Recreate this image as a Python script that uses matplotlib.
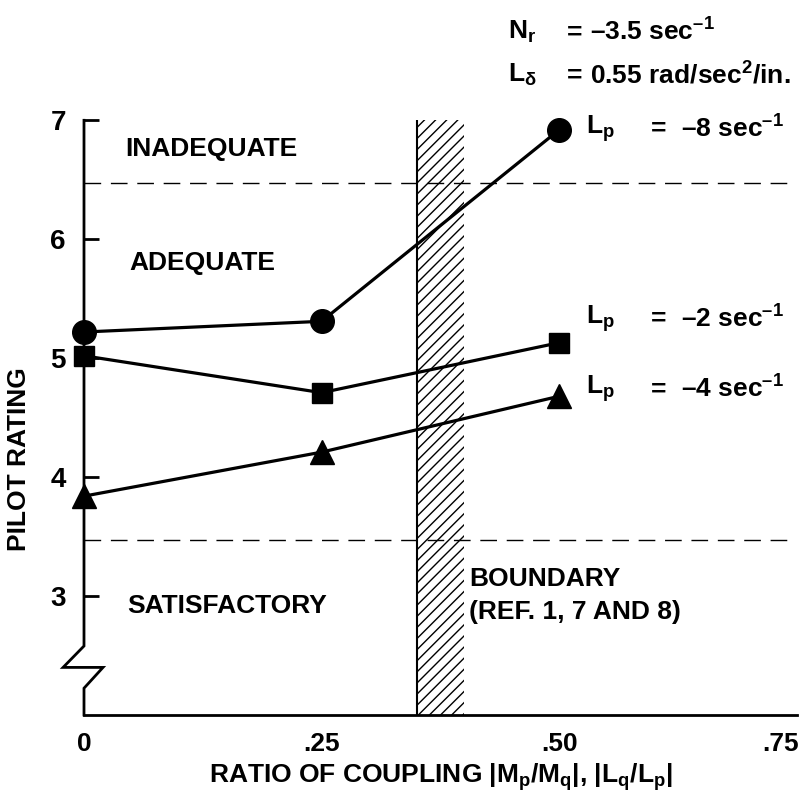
import numpy as np
import matplotlib.pyplot as plt
import matplotlib.transforms as mtransforms

plt.rcParams['font.family'] = ['Liberation Sans', 'DejaVu Sans']
plt.rcParams['font.weight'] = 'bold'
plt.rcParams['mathtext.fontset'] = 'custom'
plt.rcParams['mathtext.rm'] = 'Liberation Sans:bold'
plt.rcParams['mathtext.it'] = 'Liberation Sans:bold'
plt.rcParams['mathtext.bf'] = 'Liberation Sans:bold'

# data
ratio = [0.0, 0.25, 0.50]
rating_lp8 = [5.22, 5.31, 6.92]
rating_lp2 = [5.02, 4.71, 5.13]
rating_lp4 = [3.84, 4.21, 4.68]

x_ticks = [0, 0.25, 0.50, 0.75]
x_labels = ['0', '.25', '.50', '.75']
y_ticks = [3, 4, 5, 6, 7]

adequate_top = 6.47
satisfactory_top = 3.47
boundary = (0.35, 0.40)

fig = plt.figure(figsize=(8.1, 8.02), dpi=100)
ax = fig.add_axes([0.1037, 0.1085, 0.880, 0.7415])
ax.set_xlim(0, 0.75)
ax.set_ylim(2, 7)

for s in ['top', 'right', 'left']:
    ax.spines[s].set_visible(False)
ax.spines['bottom'].set_linewidth(2)

# left spine with a break
ax.plot([0, 0, -0.022, 0.02, 0, 0], [7, 2.58, 2.40, 2.40, 2.225, 2.0],
        color='black', lw=2, clip_on=False, solid_joinstyle='miter')

ax.set_xticks(x_ticks)
ax.set_xticklabels(x_labels)
ax.tick_params(axis='x', length=0, labelsize=19, pad=12)
# last label sits a bit left of its position, as in the original
lab = ax.get_xticklabels()[-1]
lab.set_transform(lab.get_transform() + mtransforms.ScaledTranslation(-0.16, 0, fig.dpi_scale_trans))
ax.set_yticks(y_ticks)
ax.tick_params(axis='y', direction='in', length=11, width=2, labelsize=20, pad=13)

# region boundaries
ax.axhline(adequate_top, color='black', lw=1, dashes=(12, 7))
ax.axhline(satisfactory_top, color='black', lw=1, dashes=(12, 7))

# hatched boundary band
plt.rcParams['hatch.linewidth'] = 1.0
ax.fill_between(boundary, 2, 7, facecolor='none', edgecolor='black', hatch='///', lw=0)
ax.axvline(boundary[0], color='black', lw=1.5)

ax.plot(ratio, rating_lp8, color='black', lw=2.3, marker='o', ms=17, clip_on=False, zorder=5)
ax.plot(ratio, rating_lp2, color='black', lw=2.3, marker='s', ms=14, clip_on=False, zorder=5)
ax.plot(ratio, rating_lp4, color='black', lw=2.3, marker='^', ms=17, clip_on=False, zorder=5)

fs = 19
ax.text(0.043, 6.76, 'INADEQUATE', fontsize=fs, va='center')
ax.text(0.048, 5.80, 'ADEQUATE', fontsize=fs, va='center')
ax.text(0.046, 2.92, 'SATISFACTORY', fontsize=fs, va='center')
ax.text(0.405, 3.14, 'BOUNDARY', fontsize=fs, va='center')
ax.text(0.405, 2.87, '(REF. 1, 7 AND 8)', fontsize=fs, va='center')

# parameter annotations
ax.text(0.446, 7.74, r'N$_\mathregular{r}$', fontsize=fs, va='center', clip_on=False)
ax.text(0.508, 7.74, '=', fontsize=fs, va='center', clip_on=False)
ax.text(0.532, 7.74, r'–3.5 sec$^{\mathregular{–1}}$', fontsize=fs, va='center', clip_on=False)
ax.text(0.446, 7.38, r'L$_\delta$', fontsize=fs, va='center', clip_on=False)
ax.text(0.508, 7.38, '=', fontsize=fs, va='center', clip_on=False)
ax.text(0.532, 7.38, r'0.55 rad/sec$^{\mathregular{2}}$/in.', fontsize=fs, va='center', clip_on=False)

for yv, val in [(6.93, '–8'), (5.33, '–2'), (4.74, '–4')]:
    ax.text(0.528, yv, r'L$_\mathregular{p}$', fontsize=fs, va='center', clip_on=False)
    ax.text(0.596, yv, '=', fontsize=fs, va='center', clip_on=False)
    ax.text(0.628, yv, val + r' sec$^{\mathregular{–1}}$', fontsize=fs, va='center', clip_on=False)

ax.set_ylabel('PILOT RATING', fontsize=fs, fontweight='bold')
ax.yaxis.set_label_coords(-0.075, 0.43)
ax.set_xlabel(r'RATIO OF COUPLING |M$_\mathregular{p}$/M$_\mathregular{q}$|, |L$_\mathregular{q}$/L$_\mathregular{p}$|',
              fontsize=fs, fontweight='bold', labelpad=4)

fig.savefig('out.png', dpi=100)
